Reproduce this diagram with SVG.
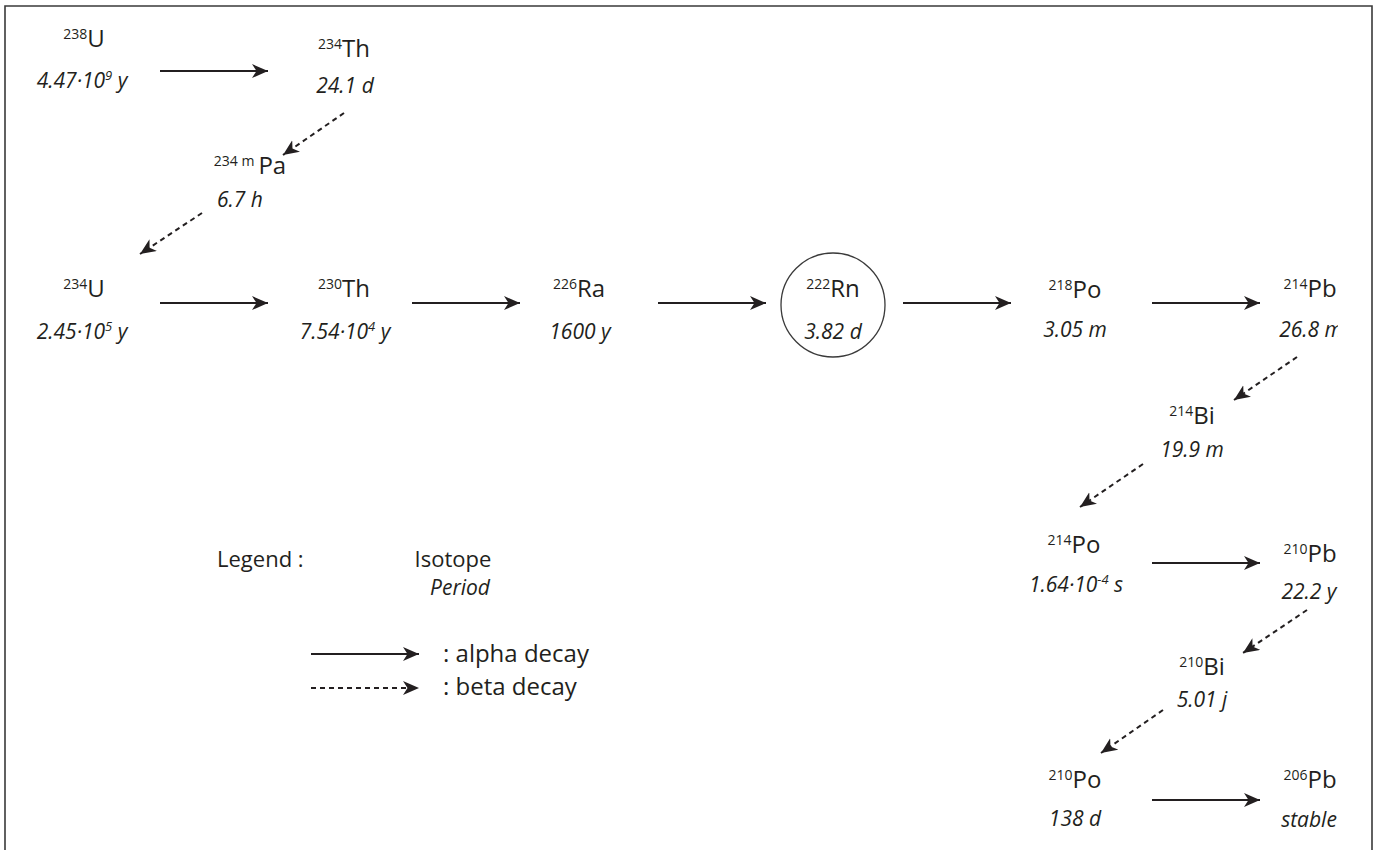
<svg xmlns="http://www.w3.org/2000/svg" width="1375" height="850" viewBox="0 0 1375 850">
<style>
text{font-family:"Open Sans","Noto Sans","Liberation Sans",sans-serif;fill:#231f20;text-anchor:middle}
.iso{font-size:24px}
.sup{font-size:14px}
.per{font-size:21px;font-style:italic}
.psup{font-size:13px}
.a{stroke:#231f20;stroke-width:2.2;fill:none;marker-end:url(#ah)}
.b{stroke:#231f20;stroke-width:2;fill:none;stroke-dasharray:5 4;marker-end:url(#ah)}
.leg{font-size:22px;text-anchor:start}
</style>
<defs>
<marker id="ah" markerUnits="userSpaceOnUse" markerWidth="18" markerHeight="16" refX="16" refY="7" orient="auto">
<path d="M0,0 L16,7 L0,14 L4.5,7 Z" fill="#231f20"/>
</marker>
<clipPath id="clipPb"><rect x="1260" y="310" width="78" height="40"/></clipPath>
</defs>
<rect x="0" y="0" width="1375" height="850" fill="#fff"/>
<path d="M5,850 V6 H1372 V850" fill="none" stroke="#3a3a3a" stroke-width="1.6"/>

<g id="U238"><text class="iso" x="84" y="47"><tspan class="sup" dy="-8">238</tspan><tspan dy="8">U</tspan></text>
<text class="per" x="82" y="88">4.47·10<tspan class="psup" dy="-8">9</tspan><tspan dy="8"> y</tspan></text></g>
<g id="Th234"><text class="iso" x="344" y="57"><tspan class="sup" dy="-8">234</tspan><tspan dy="8">Th</tspan></text>
<text class="per" x="345" y="93">24.1 d</text></g>
<g id="Pa234m"><text class="iso" x="250" y="174"><tspan class="sup" dy="-8">234 m</tspan><tspan dy="8" dx="4">Pa</tspan></text>
<text class="per" x="240" y="207">6.7 h</text></g>
<g id="U234"><text class="iso" x="84" y="297"><tspan class="sup" dy="-8">234</tspan><tspan dy="8">U</tspan></text>
<text class="per" x="82" y="339">2.45·10<tspan class="psup" dy="-8">5</tspan><tspan dy="8"> y</tspan></text></g>
<g id="Th230"><text class="iso" x="344" y="297"><tspan class="sup" dy="-8">230</tspan><tspan dy="8">Th</tspan></text>
<text class="per" x="345" y="339">7.54·10<tspan class="psup" dy="-8">4</tspan><tspan dy="8"> y</tspan></text></g>
<g id="Ra226"><text class="iso" x="579" y="297"><tspan class="sup" dy="-8">226</tspan><tspan dy="8">Ra</tspan></text>
<text class="per" x="580" y="339">1600 y</text></g>
<g id="Rn222"><circle cx="833" cy="305" r="52" fill="none" stroke="#3a3a3a" stroke-width="1.3"/>
<text class="iso" x="833" y="297"><tspan class="sup" dy="-8">222</tspan><tspan dy="8">Rn</tspan></text>
<text class="per" x="833" y="339">3.82 d</text></g>
<g id="Po218"><text class="iso" x="1075" y="298"><tspan class="sup" dy="-8">218</tspan><tspan dy="8">Po</tspan></text>
<text class="per" x="1075" y="337">3.05 m</text></g>
<g id="Pb214"><text class="iso" x="1310" y="297"><tspan class="sup" dy="-8">214</tspan><tspan dy="8">Pb</tspan></text>
<text class="per" x="1311" y="337" clip-path="url(#clipPb)">26.8 m</text></g>
<g id="Bi214"><text class="iso" x="1192" y="424"><tspan class="sup" dy="-8">214</tspan><tspan dy="8">Bi</tspan></text>
<text class="per" x="1192" y="457">19.9 m</text></g>
<g id="Po214"><text class="iso" x="1074" y="553"><tspan class="sup" dy="-8">214</tspan><tspan dy="8">Po</tspan></text>
<text class="per" x="1076" y="592">1.64·10<tspan class="psup" dy="-8">-4</tspan><tspan dy="8"> s</tspan></text></g>
<g id="Pb210"><text class="iso" x="1310" y="562"><tspan class="sup" dy="-8">210</tspan><tspan dy="8">Pb</tspan></text>
<text class="per" x="1309" y="599">22.2 y</text></g>
<g id="Bi210"><text class="iso" x="1202" y="675"><tspan class="sup" dy="-8">210</tspan><tspan dy="8">Bi</tspan></text>
<text class="per" x="1202" y="707">5.01 j</text></g>
<g id="Po210"><text class="iso" x="1075" y="788"><tspan class="sup" dy="-8">210</tspan><tspan dy="8">Po</tspan></text>
<text class="per" x="1075" y="826">138 d</text></g>
<g id="Pb206"><text class="iso" x="1310" y="788"><tspan class="sup" dy="-8">206</tspan><tspan dy="8">Pb</tspan></text>
<text class="per" x="1309" y="827">stable</text></g>

<g id="legend">
<text class="leg" x="217" y="567">Legend :</text>
<text x="453" y="567" style="font-size:22px">Isotope</text>
<text class="per" x="460" y="595">Period</text>
<line class="a" x1="311" y1="654" x2="419" y2="654"/>
<line class="b" x1="311" y1="688" x2="419" y2="688"/>
<text class="leg" x="443" y="662" style="font-size:24px">: alpha decay</text>
<text class="leg" x="443" y="695" style="font-size:24px">: beta decay</text>
</g>

<g id="connectors">
<line class="a" x1="160" y1="71" x2="268" y2="71"/>
<line class="a" x1="160" y1="303" x2="268" y2="303"/>
<line class="a" x1="412" y1="303" x2="520" y2="303"/>
<line class="a" x1="658" y1="303" x2="766" y2="303"/>
<line class="a" x1="903" y1="303" x2="1011" y2="303"/>
<line class="a" x1="1152" y1="303" x2="1260" y2="303"/>
<line class="a" x1="1152" y1="563" x2="1260" y2="563"/>
<line class="a" x1="1152" y1="800" x2="1260" y2="800"/>
<line class="b" x1="344" y1="113" x2="283" y2="155"/>
<line class="b" x1="202" y1="213" x2="140" y2="254"/>
<line class="b" x1="1297" y1="357" x2="1234" y2="400"/>
<line class="b" x1="1143" y1="464" x2="1080" y2="507"/>
<line class="b" x1="1307" y1="610" x2="1243" y2="653"/>
<line class="b" x1="1163" y1="710" x2="1101" y2="753"/>
</g>
</svg>
